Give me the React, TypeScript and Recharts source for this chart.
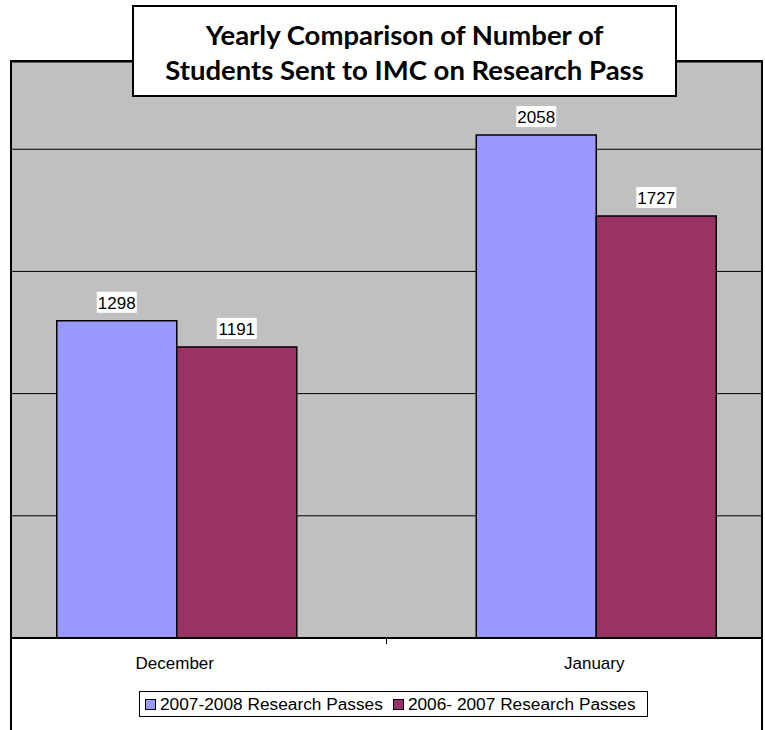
import { BarChart, Bar, XAxis, YAxis, CartesianGrid, LabelList } from "recharts";

const categories = ["December", "January"];
const passes0708 = [1298, 2058];
const passes0607 = [1191, 1727];
const seriesNames = ["2007-2008 Research Passes", "2006- 2007 Research Passes"];
const seriesColors = ["#9999FF", "#993366"];
const yTicks = [0, 500, 1000, 1500, 2000];
const yMax = 2357;
const titleLines = ["Yearly Comparison of Number of", "Students Sent to IMC on Research Pass"];

const data = categories.map((name, i) => ({ name, a: passes0708[i], b: passes0607[i] }));

const FONT = "'Liberation Sans', Arial, sans-serif";

function ValueLabel(props: any) {
  const { x, y, width, value } = props;
  const cx = x + width / 2;
  return (
    <g>
      <rect x={cx - 20} y={y - 29} width={40} height={21} fill="#fff" />
      <text x={cx} y={y - 12} textAnchor="middle" fontSize={17} fontFamily={FONT} fill="#000">
        {value}
      </text>
    </g>
  );
}

// tick y comes in below the axis by tickSize + tickMargin (6 + 2)
function CategoryTick(props: any) {
  const { x, y, payload, index } = props;
  const axisY = y - 8;
  return (
    <g>
      <text x={x - 2} y={axisY + 31} textAnchor="middle" fontSize={17} fontFamily={FONT} fill="#000">
        {payload.value}
      </text>
      {index === 0 && payload.offset ? (
        <line x1={x + payload.offset} x2={x + payload.offset} y1={axisY} y2={axisY + 6} stroke="#000" strokeWidth={1} />
      ) : null}
    </g>
  );
}

export default function App() {
  return (
    <div style={{ position: "absolute", left: 0, top: 0, width: 765, height: 730, background: "#fff", overflow: "hidden" }}>
      <BarChart
        width={765}
        height={730}
        data={data}
        margin={{ top: 62, right: 4, left: 12, bottom: 0 }}
        barCategoryGap="21.4%"
        barGap={0}
      >
        <CartesianGrid vertical={false} fill="#C0C0C0" fillOpacity={1} stroke="#000" strokeWidth={1} />
        <XAxis
          dataKey="name"
          padding={{ left: -45, right: -45 }}
          axisLine={{ stroke: "#000", strokeWidth: 2 }}
          tickLine={false}
          tick={<CategoryTick />}
          height={92}
        />
        <YAxis hide domain={[0, yMax]} ticks={yTicks} />
        <Bar dataKey="a" name={seriesNames[0]} fill={seriesColors[0]} stroke="#000" strokeWidth={1.5} isAnimationActive={false}>
          <LabelList dataKey="a" content={<ValueLabel />} />
        </Bar>
        <Bar dataKey="b" name={seriesNames[1]} fill={seriesColors[1]} stroke="#000" strokeWidth={1.5} isAnimationActive={false}>
          <LabelList dataKey="b" content={<ValueLabel />} />
        </Bar>
      </BarChart>

      <div
        style={{
          position: "absolute",
          left: 10,
          top: 60,
          width: 749,
          height: 700,
          borderTop: "2px solid #000",
          borderLeft: "2px solid #000",
          borderRight: "2px solid #000",
          pointerEvents: "none",
        }}
      />

      <div
        style={{
          position: "absolute",
          left: 132,
          top: 5,
          width: 541,
          height: 78,
          border: "2px solid #000",
          background: "#fff",
          fontFamily: "Lato, 'Open Sans', sans-serif",
          fontWeight: 700,
          fontSize: 27.5,
          lineHeight: "35px",
          textAlign: "center",
          color: "#000",
          paddingTop: 10,
          boxSizing: "content-box",
        }}
      >
        {titleLines.map((t) => (
          <div key={t}>{t}</div>
        ))}
      </div>

      <div
        style={{
          position: "absolute",
          left: 139,
          top: 691,
          width: 502,
          height: 24,
          border: "1px solid #000",
          background: "#fff",
          display: "flex",
          alignItems: "center",
          fontFamily: FONT,
          fontSize: 17.3,
          color: "#000",
          paddingLeft: 5,
          boxSizing: "content-box",
        }}
      >
        {seriesNames.map((n, i) => (
          <div key={n} style={{ display: "flex", alignItems: "center", marginRight: 10 }}>
            <span
              style={{
                display: "inline-block",
                width: 9,
                height: 9,
                background: seriesColors[i],
                border: "1px solid #000",
                marginRight: 4,
              }}
            />
            <span>{n}</span>
          </div>
        ))}
      </div>
    </div>
  );
}
